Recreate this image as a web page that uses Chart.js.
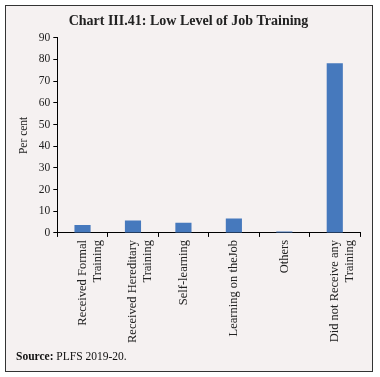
<!DOCTYPE html>
<html>
<head>
<meta charset="utf-8">
<script src="https://cdn.jsdelivr.net/npm/chart.js@4/dist/chart.umd.min.js"></script>
<style>
  html, body { margin: 0; padding: 0; background: #ffffff; }
  #wrap { position: relative; width: 380px; height: 377px; overflow: hidden; }
  #frame { position: absolute; left: 5px; top: 5px; width: 366px; height: 365px;
           border: 1.5px solid #333; background: #f5f1f1; }
  #c { position: absolute; left: 0; top: 0; }
  #source { position: absolute; left: 16px; top: 350px; font-family: "Liberation Serif", serif;
            font-size: 11.5px; color: #111; }
</style>
</head>
<body>
<div id="wrap">
  <div id="frame"></div>
  <canvas id="c" width="380" height="377"></canvas>
  <div id="source"><b>Source:</b> PLFS 2019-20.</div>
</div>
<script>
const categories = [
  ["Received Formal", "Training"],
  ["Received Hereditary", "Training"],
  ["Self-learning"],
  ["Learning on theJob"],
  ["Others"],
  ["Did not Receive any", "Training"]
];
const values = [3.6, 5.7, 4.7, 6.7, 0.7, 78.3];
const yTicks = [0, 10, 20, 30, 40, 50, 60, 70, 80, 90];
const titleText = "Chart III.41: Low Level of Job Training";
const yTitle = "Per cent";

const serif = "'Liberation Serif', 'DejaVu Serif', serif";

new Chart(document.getElementById('c'), {
  type: 'bar',
  data: {
    labels: categories,
    datasets: [{
      data: values,
      backgroundColor: '#4679bd',
      borderWidth: 0,
      barPercentage: 0.32,
      categoryPercentage: 1.0
    }]
  },
  options: {
    responsive: false,
    animation: false,
    layout: { padding: { left: 17, right: 20, top: 8, bottom: 31 } },
    plugins: {
      legend: { display: false },
      tooltip: { enabled: false },
      title: {
        display: true,
        text: titleText,
        color: '#222',
        font: { family: serif, size: 14, weight: 'bold' },
        padding: { top: 5, bottom: 8 }
      }
    },
    scales: {
      x: {
        grid: { display: true, drawOnChartArea: false, drawTicks: true, tickLength: 4, color: '#000', offset: true },
        border: { display: true, color: '#000', width: 1 },
        ticks: {
          color: '#222',
          font: { family: serif, size: 12.5 },
          maxRotation: 90, minRotation: 90,
          padding: 3,
          autoSkip: false
        }
      },
      y: {
        min: 0, max: 90,
        afterBuildTicks: (axis) => { axis.ticks = yTicks.map(v => ({ value: v })); },
        grid: { display: true, drawOnChartArea: false, drawTicks: true, tickLength: 4, color: '#000' },
        border: { display: true, color: '#000', width: 1 },
        ticks: { color: '#222', font: { family: serif, size: 11.5 }, padding: 3 },
        title: { display: true, text: yTitle, color: '#222', font: { family: serif, size: 11.5 }, padding: { top: 0, bottom: 5 } }
      }
    }
  }
});
</script>
</body>
</html>
